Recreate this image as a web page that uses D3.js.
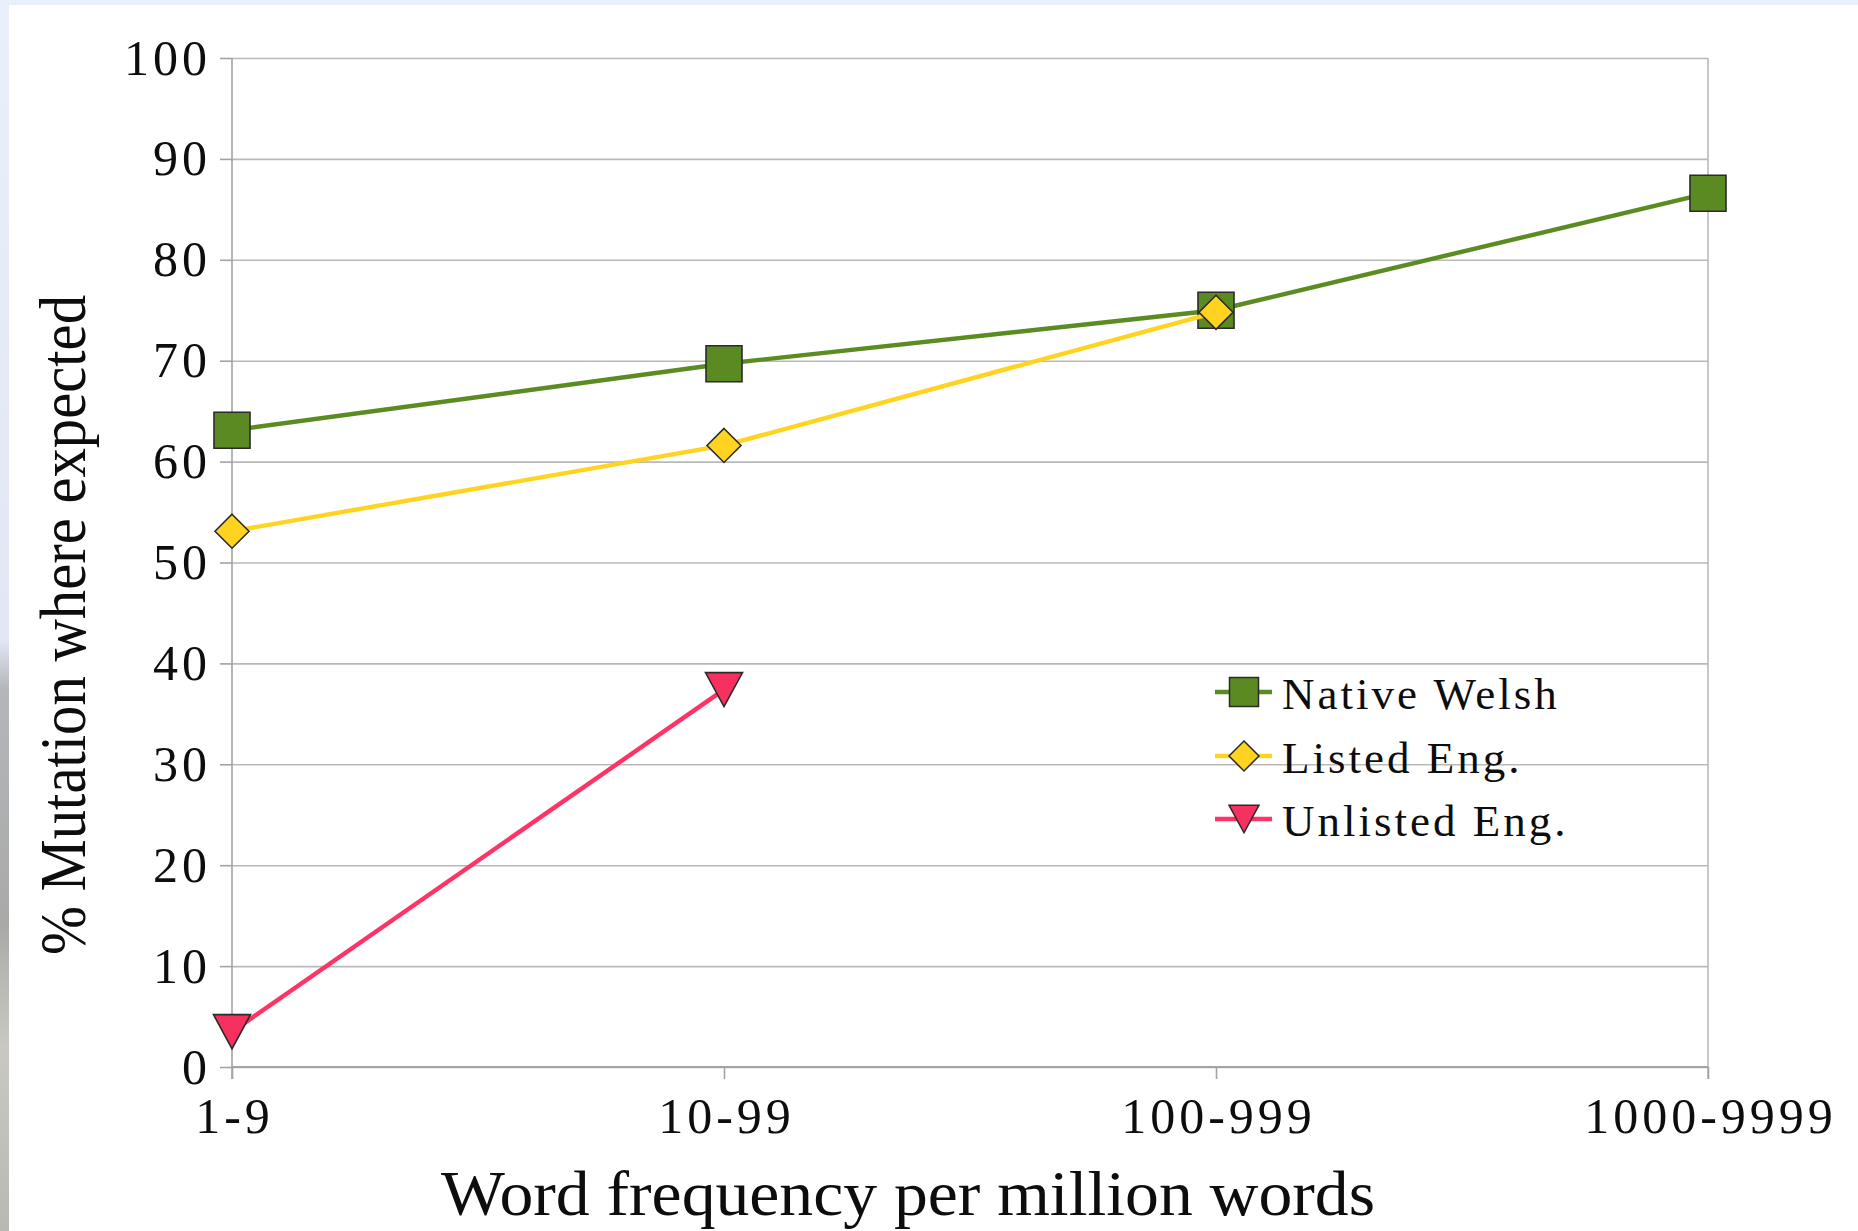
<!DOCTYPE html>
<html>
<head>
<meta charset="utf-8">
<script src="https://cdn.jsdelivr.net/npm/d3@7"></script>
<style>
  html, body { margin: 0; padding: 0; background: #ffffff; }
  svg { display: block; }
  text { font-family: "Liberation Serif", "Times New Roman", Times, serif; fill: #0d0d0d; }
</style>
</head>
<body>
<svg id="chart" width="1858" height="1231"></svg>
<script>
// Frequency bands (x categories)
const categories = ["1-9", "10-99", "100-999", "1000-9999"];

// % mutation where expected, per frequency band
const nativeWelsh = [63.1, 69.7, 75.0, 86.6];
const listedEng = [53.1, 61.6, 74.8];
const unlistedEng = [3.5, 37.4];

const seriesNames = ["Native Welsh", "Listed Eng.", "Unlisted Eng."];
const yTicks = [0, 10, 20, 30, 40, 50, 60, 70, 80, 90, 100];

const xTitle = "Word frequency per million words";
const yTitle = "% Mutation where expected";

const serif = "'Liberation Serif', 'Times New Roman', Times, serif";

const svg = d3.select("#chart");
const W = 1858, H = 1231;

// Slide backdrop showing at the edges
const defs = svg.append("defs");
const grad = defs.append("linearGradient").attr("id", "edgeGrad")
  .attr("x1", 0).attr("y1", 0).attr("x2", 0).attr("y2", 1);
grad.append("stop").attr("offset", "0").attr("stop-color", "#e9effb");
grad.append("stop").attr("offset", "0.52").attr("stop-color", "#e2e6f6");
grad.append("stop").attr("offset", "0.56").attr("stop-color", "#b4b6ba");
grad.append("stop").attr("offset", "0.75").attr("stop-color", "#a9aaa8");
grad.append("stop").attr("offset", "0.85").attr("stop-color", "#c9c9c2");
grad.append("stop").attr("offset", "1").attr("stop-color", "#b9b9b4");
svg.append("rect").attr("x", 0).attr("y", 0).attr("width", W).attr("height", H).attr("fill", "#ffffff");
svg.append("rect").attr("x", 0).attr("y", 0).attr("width", 9).attr("height", H).attr("fill", "url(#edgeGrad)");
svg.append("rect").attr("x", 0).attr("y", 0).attr("width", W).attr("height", 5).attr("fill", "#e8f0fc");

// Scales
const x = d3.scalePoint().domain(categories).range([232, 1708]);
const y = d3.scaleLinear().domain([0, 100]).range([1067, 58]);
const [x0, x1] = x.range();

// Horizontal grid
const grid = svg.append("g").attr("transform", `translate(${x0},0)`)
  .call(d3.axisLeft(y).tickValues(yTicks).tickSize(-(x1 - x0)).tickFormat(""));
grid.select(".domain").remove();
grid.selectAll(".tick line").attr("stroke", "#b9b9b9").attr("stroke-width", 1.6);

// Right border of the plot area
svg.append("line").attr("x1", x1).attr("x2", x1).attr("y1", y(100)).attr("y2", y(0) + 12)
  .attr("stroke", "#b9b9b9").attr("stroke-width", 1.6);

// Y axis
const yAxis = svg.append("g").attr("transform", `translate(${x0},0)`)
  .call(d3.axisLeft(y).tickValues(yTicks).tickSize(12).tickPadding(0).tickFormat(d3.format("d")));
yAxis.attr("font-family", serif);
yAxis.select(".domain").attr("stroke", "#a3a3a3").attr("stroke-width", 1.6)
  .attr("d", `M0,${y(100)}V${y(0) + 12}`);
yAxis.selectAll(".tick line").attr("stroke", "#a3a3a3").attr("stroke-width", 1.6);
yAxis.selectAll(".tick text")
  .attr("x", -21).attr("dy", null).attr("y", 16)
  .attr("text-anchor", "end")
  .style("font-family", serif)
  .style("font-size", "50px").style("letter-spacing", "4px")
  .attr("fill", "#0d0d0d");

// X axis
const xAxis = svg.append("g").attr("transform", `translate(0,${y(0)})`)
  .call(d3.axisBottom(x).tickSize(12).tickPadding(0));
xAxis.attr("font-family", serif);
xAxis.select(".domain").attr("stroke", "#a3a3a3").attr("stroke-width", 2)
  .attr("d", `M${x0},0H${x1}`);
xAxis.selectAll(".tick line").attr("stroke", "#a3a3a3").attr("stroke-width", 1.6);
xAxis.selectAll(".tick text")
  .attr("y", 66).attr("dy", null)
  .attr("text-anchor", "middle")
  .style("font-family", serif)
  .style("font-size", "50px").style("letter-spacing", "4px")
  .attr("dx", 2)
  .attr("fill", "#0d0d0d");

// Axis titles
svg.append("text")
  .attr("x", 908).attr("y", 1215)
  .attr("text-anchor", "middle")
  .attr("textLength", 934).attr("lengthAdjust", "spacingAndGlyphs")
  .style("font-family", serif)
  .style("font-size", "64px")
  .text(xTitle);

svg.append("text")
  .attr("transform", "translate(85,625) rotate(-90)")
  .attr("text-anchor", "middle")
  .attr("textLength", 660).attr("lengthAdjust", "spacingAndGlyphs")
  .style("font-family", serif)
  .style("font-size", "66px")
  .text(yTitle);

// Marker shapes
const diamond = {
  draw(ctx, size) {
    const r = Math.sqrt(size) / 2;
    ctx.moveTo(0, -r); ctx.lineTo(r, 0); ctx.lineTo(0, r); ctx.lineTo(-r, 0); ctx.closePath();
  }
};
const triangleDown = {
  draw(ctx, size) {
    const r = Math.sqrt(size) / 2, h = r * 0.92;
    ctx.moveTo(-r, -h); ctx.lineTo(r, -h); ctx.lineTo(0, h); ctx.closePath();
  }
};

const series = [
  { name: seriesNames[0], values: nativeWelsh, line: "#5b8c22", fill: "#5b8a23", type: d3.symbolSquare, size: 36 * 36, legendSize: 29 * 29 },
  { name: seriesNames[1], values: listedEng, line: "#ffd320", fill: "#ffd320", type: diamond, size: 34 * 34, legendSize: 30 * 30 },
  { name: seriesNames[2], values: unlistedEng, line: "#ff3366", fill: "#f7315f", type: triangleDown, size: 37 * 37, legendSize: 30 * 30 }
];

const line = d3.line().x((d, i) => x(categories[i])).y(d => y(d));

series.forEach(s => {
  const g = svg.append("g");
  g.append("path").datum(s.values)
    .attr("d", line)
    .attr("fill", "none").attr("stroke", s.line).attr("stroke-width", 4.4)
    .attr("stroke-linejoin", "round");
  g.selectAll("path.marker").data(s.values).join("path")
    .attr("class", "marker")
    .attr("transform", (d, i) => `translate(${x(categories[i])},${y(d)})`)
    .attr("d", d3.symbol().type(s.type).size(s.size))
    .attr("fill", s.fill).attr("stroke", "#2b2b2b").attr("stroke-width", 1.6);
});

// Legend
const legendY = [692, 756, 819];
const legend = svg.append("g");
series.forEach((s, i) => {
  const ly = legendY[i];
  legend.append("line").attr("x1", 1215).attr("x2", 1272).attr("y1", ly).attr("y2", ly)
    .attr("stroke", s.line).attr("stroke-width", 4.4);
  legend.append("path")
    .attr("transform", `translate(1244,${ly})`)
    .attr("d", d3.symbol().type(s.type).size(s.legendSize))
    .attr("fill", s.fill).attr("stroke", "#2b2b2b").attr("stroke-width", 1.5);
  legend.append("text")
    .attr("x", 1282).attr("y", ly + 17)
    .style("font-family", serif)
    .style("font-size", "45px").style("letter-spacing", "3px")
    .text(s.name);
});
</script>
</body>
</html>
